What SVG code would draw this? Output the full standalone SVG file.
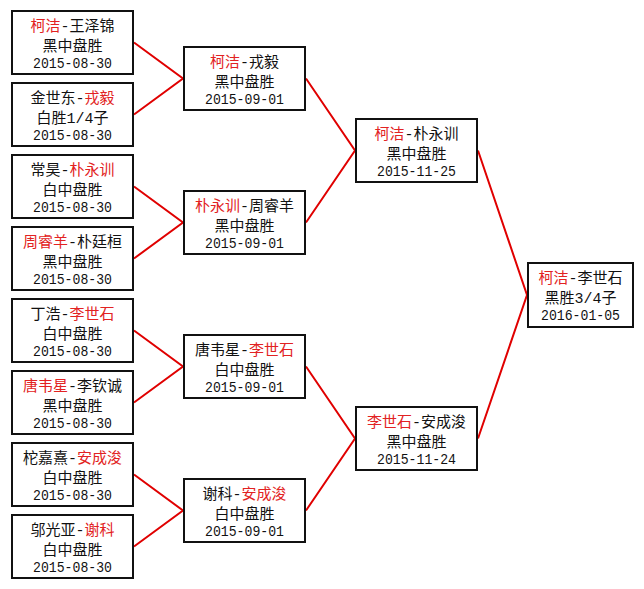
<svg xmlns="http://www.w3.org/2000/svg" width="644" height="589" viewBox="0 0 644 589">
<style>
.box{fill:#ffffff;stroke:#111111;stroke-width:2}
.t{font-family:"Liberation Mono","Noto Sans CJK SC",sans-serif;font-size:15px;fill:#111111;text-anchor:middle}
.d{font-size:15.5px}
.r{fill:#e22222}
.edge{stroke:#e00000;stroke-width:2;fill:none}
</style>
<rect x="0" y="0" width="644" height="589" fill="#ffffff"/>
<g id="connectors">
<polyline class="edge" points="134,42.5 183,78.5 134,114.5"/>
<polyline class="edge" points="134,186.5 183,222.5 134,258.5"/>
<polyline class="edge" points="134,330.5 183,366.5 134,402.5"/>
<polyline class="edge" points="134,474.5 183,510.5 134,546.5"/>
<polyline class="edge" points="306,78.5 355,150.5 306,222.5"/>
<polyline class="edge" points="306,366.5 355,438.5 306,510.5"/>
<polyline class="edge" points="478,150.5 527,295 478,438.5"/>
</g>
<g id="r1-1">
<rect class="box" x="12" y="11" width="121" height="63"/>
<text class="t" x="72.5" y="30.7"><tspan class="r">柯洁</tspan>-王泽锦</text>
<text class="t" x="72.5" y="50.7">黑中盘胜</text>
<text class="t d" x="72.5" y="68.3" textLength="79" lengthAdjust="spacingAndGlyphs">2015-08-30</text>
</g>
<g id="r1-2">
<rect class="box" x="12" y="83" width="121" height="63"/>
<text class="t" x="72.5" y="102.7">金世东-<tspan class="r">戎毅</tspan></text>
<text class="t" x="72.5" y="122.7">白胜1/4子</text>
<text class="t d" x="72.5" y="140.3" textLength="79" lengthAdjust="spacingAndGlyphs">2015-08-30</text>
</g>
<g id="r1-3">
<rect class="box" x="12" y="155" width="121" height="63"/>
<text class="t" x="72.5" y="174.7">常昊-<tspan class="r">朴永训</tspan></text>
<text class="t" x="72.5" y="194.7">白中盘胜</text>
<text class="t d" x="72.5" y="212.3" textLength="79" lengthAdjust="spacingAndGlyphs">2015-08-30</text>
</g>
<g id="r1-4">
<rect class="box" x="12" y="227" width="121" height="63"/>
<text class="t" x="72.5" y="246.7"><tspan class="r">周睿羊</tspan>-朴廷桓</text>
<text class="t" x="72.5" y="266.7">黑中盘胜</text>
<text class="t d" x="72.5" y="284.3" textLength="79" lengthAdjust="spacingAndGlyphs">2015-08-30</text>
</g>
<g id="r1-5">
<rect class="box" x="12" y="299" width="121" height="63"/>
<text class="t" x="72.5" y="318.7">丁浩-<tspan class="r">李世石</tspan></text>
<text class="t" x="72.5" y="338.7">白中盘胜</text>
<text class="t d" x="72.5" y="356.3" textLength="79" lengthAdjust="spacingAndGlyphs">2015-08-30</text>
</g>
<g id="r1-6">
<rect class="box" x="12" y="371" width="121" height="63"/>
<text class="t" x="72.5" y="390.7"><tspan class="r">唐韦星</tspan>-李钦诚</text>
<text class="t" x="72.5" y="410.7">黑中盘胜</text>
<text class="t d" x="72.5" y="428.3" textLength="79" lengthAdjust="spacingAndGlyphs">2015-08-30</text>
</g>
<g id="r1-7">
<rect class="box" x="12" y="443" width="121" height="63"/>
<text class="t" x="72.5" y="462.7">柁嘉熹-<tspan class="r">安成浚</tspan></text>
<text class="t" x="72.5" y="482.7">白中盘胜</text>
<text class="t d" x="72.5" y="500.3" textLength="79" lengthAdjust="spacingAndGlyphs">2015-08-30</text>
</g>
<g id="r1-8">
<rect class="box" x="12" y="515" width="121" height="63"/>
<text class="t" x="72.5" y="534.7">邬光亚-<tspan class="r">谢科</tspan></text>
<text class="t" x="72.5" y="554.7">白中盘胜</text>
<text class="t d" x="72.5" y="572.3" textLength="79" lengthAdjust="spacingAndGlyphs">2015-08-30</text>
</g>
<g id="r2-1">
<rect class="box" x="184" y="47" width="121" height="63"/>
<text class="t" x="244.5" y="66.7"><tspan class="r">柯洁</tspan>-戎毅</text>
<text class="t" x="244.5" y="86.7">黑中盘胜</text>
<text class="t d" x="244.5" y="104.3" textLength="79" lengthAdjust="spacingAndGlyphs">2015-09-01</text>
</g>
<g id="r2-2">
<rect class="box" x="184" y="191" width="121" height="63"/>
<text class="t" x="244.5" y="210.7"><tspan class="r">朴永训</tspan>-周睿羊</text>
<text class="t" x="244.5" y="230.7">黑中盘胜</text>
<text class="t d" x="244.5" y="248.3" textLength="79" lengthAdjust="spacingAndGlyphs">2015-09-01</text>
</g>
<g id="r2-3">
<rect class="box" x="184" y="335" width="121" height="63"/>
<text class="t" x="244.5" y="354.7">唐韦星-<tspan class="r">李世石</tspan></text>
<text class="t" x="244.5" y="374.7">白中盘胜</text>
<text class="t d" x="244.5" y="392.3" textLength="79" lengthAdjust="spacingAndGlyphs">2015-09-01</text>
</g>
<g id="r2-4">
<rect class="box" x="184" y="479" width="121" height="63"/>
<text class="t" x="244.5" y="498.7">谢科-<tspan class="r">安成浚</tspan></text>
<text class="t" x="244.5" y="518.7">白中盘胜</text>
<text class="t d" x="244.5" y="536.3" textLength="79" lengthAdjust="spacingAndGlyphs">2015-09-01</text>
</g>
<g id="r3-1">
<rect class="box" x="356" y="119" width="121" height="63"/>
<text class="t" x="416.5" y="138.7"><tspan class="r">柯洁</tspan>-朴永训</text>
<text class="t" x="416.5" y="158.7">黑中盘胜</text>
<text class="t d" x="416.5" y="176.3" textLength="79" lengthAdjust="spacingAndGlyphs">2015-11-25</text>
</g>
<g id="r3-2">
<rect class="box" x="356" y="407" width="121" height="63"/>
<text class="t" x="416.5" y="426.7"><tspan class="r">李世石</tspan>-安成浚</text>
<text class="t" x="416.5" y="446.7">黑中盘胜</text>
<text class="t d" x="416.5" y="464.3" textLength="79" lengthAdjust="spacingAndGlyphs">2015-11-24</text>
</g>
<g id="final">
<rect class="box" x="528" y="263" width="105" height="64"/>
<text class="t" x="580.5" y="282.7"><tspan class="r">柯洁</tspan>-李世石</text>
<text class="t" x="580.5" y="302.7">黑胜3/4子</text>
<text class="t d" x="580.5" y="320.3" textLength="79" lengthAdjust="spacingAndGlyphs">2016-01-05</text>
</g>
</svg>
